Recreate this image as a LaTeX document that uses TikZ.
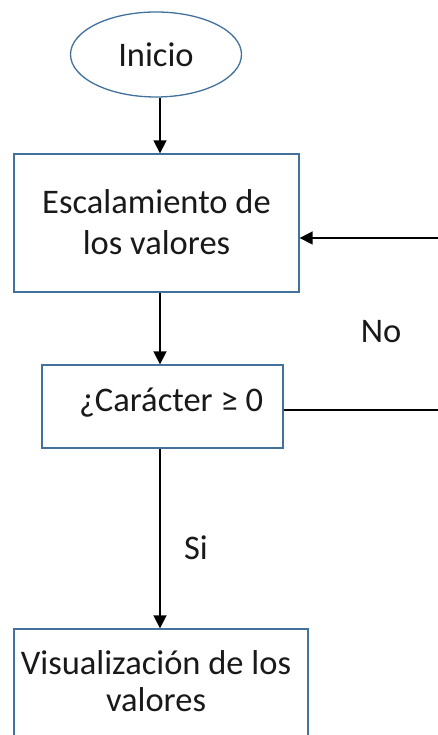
\documentclass[tikz,border=0pt]{standalone}
\usepackage{fontspec}
\setmainfont{Carlito}
\usetikzlibrary{shapes.geometric,arrows.meta,calc}
\tikzset{
  shapeline/.style={draw={rgb,255:red,65;green,113;blue,156}, line width=1.3pt},
  flowbox/.style={shapeline, rectangle, inner sep=0pt},
  flowtext/.style={font=\fontsize{34.5}{41}\selectfont, text=black!90, align=center, inner sep=0pt},
  arrow/.style={line width=1.6pt, -{Triangle[width=13pt,length=13pt]}},
  plain/.style={line width=1.6pt}
}
\begin{document}
\begin{tikzpicture}[x=1pt,y=1pt]
\useasboundingbox (0,0) rectangle (438,735);
\clip (0,0) rectangle (438,735);
\fill[white] (0,0) rectangle (438,735);
% nodes
\node[shapeline, ellipse, minimum width=171pt, minimum height=85pt, inner sep=0pt] (ell) at (156,680.5) {};
\node[flowtext] (tinicio) at (156,680) {Inicio};
\node[flowbox, minimum width=285pt, minimum height=138pt] (box1) at (156.5,512) {};
\node[flowtext] (t1) at (156.5,513) {Escalamiento de\\los valores};
\node[flowbox, minimum width=241pt, minimum height=83pt] (box2) at (162.5,328.5) {};
\node[flowtext] (t2) at (171,332) {¿Carácter ≥ 0};
\node[flowbox, minimum width=294pt, minimum height=160pt] (box3) at (161,26) {};
\node[flowtext, font=\fontsize{34.5}{37}\selectfont] (t3) at (156,54) {Visualización de los\\valores};
\node[flowtext] (lno) at (381,403) {No};
\node[flowtext] (lsi) at (196,187) {Si};
% helper coordinates
\coordinate (ax) at (160,0);
\coordinate (r1) at (445,325);
\coordinate (r2) at (445,497);
% connectors
\draw[arrow] (ell.south -| ax) -- (box1.north -| ax);
\draw[arrow] (box1.south -| ax) -- (box2.north -| ax);
\draw[arrow] (box2.south -| ax) -- (box3.north -| ax);
\draw[plain] (box2.east |- r1) -- (r1);
\draw[plain] (r1) -- (r2);
\draw[arrow] (r2) -- (box1.east |- r2);
\end{tikzpicture}
\end{document}
